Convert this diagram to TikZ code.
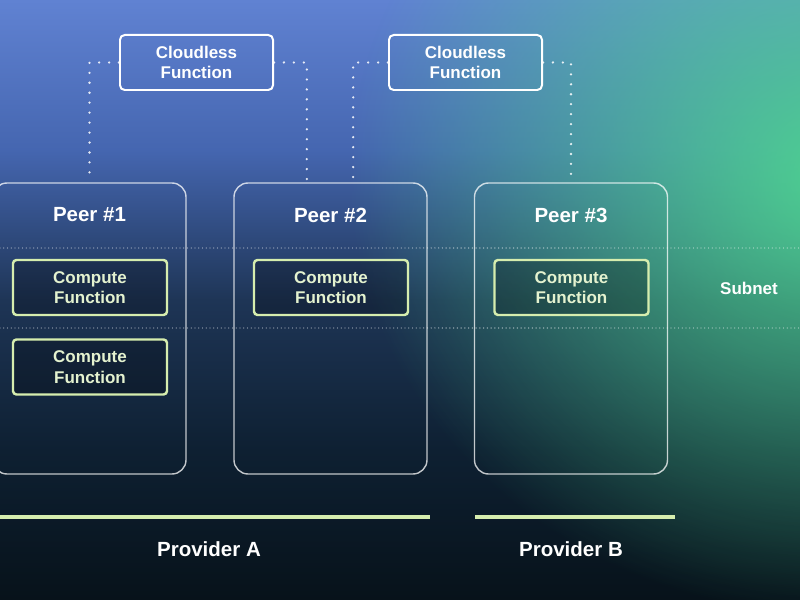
\documentclass[tikz,border=0pt]{standalone}
\usepackage{fontspec}
\setmainfont{Liberation Sans}
\usetikzlibrary{fadings}
\definecolor{bgA}{HTML}{6082D2}
\definecolor{bgB}{HTML}{4566B0}
\definecolor{bgC}{HTML}{1E3556}
\definecolor{bgD}{HTML}{0E2032}
\definecolor{bgE}{HTML}{07121A}
\definecolor{glow}{HTML}{4FD890}
\definecolor{lime}{HTML}{D6EDAE}
\definecolor{limetext}{HTML}{E4F2CF}
\tikzfading[name=glowfade, inner color=transparent!0, outer color=transparent!100]
\begin{document}
\begin{tikzpicture}[x=0.03cm, y=-0.03cm, line join=round, line cap=round,
  cloudbox/.style={draw=white, line width=1.7pt, rounded corners=4pt, minimum width=4.59cm, minimum height=1.65cm, align=center, text=white, font=\bfseries\fontsize{14.5}{17.5}\selectfont},
  peerbox/.style={draw=white, draw opacity=.75, line width=1.2pt, rounded corners=12pt, minimum width=5.79cm, minimum height=8.73cm},
  computebox/.style={draw=lime, line width=2.1pt, rounded corners=3pt, fill=black, fill opacity=.25, text opacity=1, minimum width=4.62cm, minimum height=1.65cm, align=center, text=limetext, font=\bfseries\fontsize{14.5}{17.5}\selectfont},
  title/.style={text=white, font=\bfseries\fontsize{17.5}{21}\selectfont},
  link/.style={white, draw opacity=.85, line width=2.2pt, dash pattern=on 0pt off 8.5pt},
  subnet/.style={white, draw opacity=.6, line width=1.1pt, dash pattern=on 0pt off 3.2pt},
  provider/.style={lime, line width=3.4pt, line cap=butt}]
%Khung hình và nền
\useasboundingbox (0,0) rectangle (800,600);
\clip (0,0) rectangle (800,600);
\shade[top color=bgA, bottom color=bgB] (0,0) rectangle (800,150.5);
\shade[top color=bgB, bottom color=bgC] (0,150) rectangle (800,300.5);
\shade[top color=bgC, bottom color=bgD] (0,300) rectangle (800,450.5);
\shade[top color=bgD, bottom color=bgE] (0,450) rectangle (800,600);
\fill[glow, path fading=glowfade, fill opacity=.95] (840,175) ellipse (490 and 440);
%Các đường subnet
\draw[subnet] (0,248)--(800,248) (0,328)--(800,328);
\node[text=white, font=\bfseries\fontsize{14.5}{17.5}\selectfont] (sub) at (749,288) {Subnet};
%Các peer
\node[peerbox] (p1) at (89.5,328.5) {};
\node[peerbox] (p2) at (330.5,328.5) {};
\node[peerbox] (p3) at (571,328.5) {};
\node[title] (t1) at (89.5,215) {Peer \#1};
\node[title] (t2) at (330.5,215) {Peer \#2};
\node[title] (t3) at (571,215) {Peer \#3};
\node[computebox] (c1) at (90,287.5) {Compute\\Function};
\node[computebox] (c1b) at (90,367) {Compute\\Function};
\node[computebox] (c2) at (331,287.5) {Compute\\Function};
\node[computebox] (c3) at (571.5,287.5) {Compute\\Function};
%Cloudless function
\node[cloudbox] (f1) at (196.5,62.5) {Cloudless\\Function};
\node[cloudbox] (f2) at (465.5,62.5) {Cloudless\\Function};
\draw[link] (f1.west) -| (p1.north);
\draw[link] (f1.east) -| ([xshift=-0.71cm]p2.north);
\draw[link] (f2.west) -| ([xshift=0.68cm]p2.north);
\draw[link] (f2.east) -| (p3.north);
%Provider
\coordinate (a1) at (0,517); \coordinate (a2) at (430,517);
\coordinate (b1) at (475,517); \coordinate (b2) at (675,517);
\draw[provider] (a1)--(a2) (b1)--(b2);
\node[title] (pa) at (209,549) {Provider A};
\node[title] (pb) at (571,549) {Provider B};
\end{tikzpicture}
\end{document}
